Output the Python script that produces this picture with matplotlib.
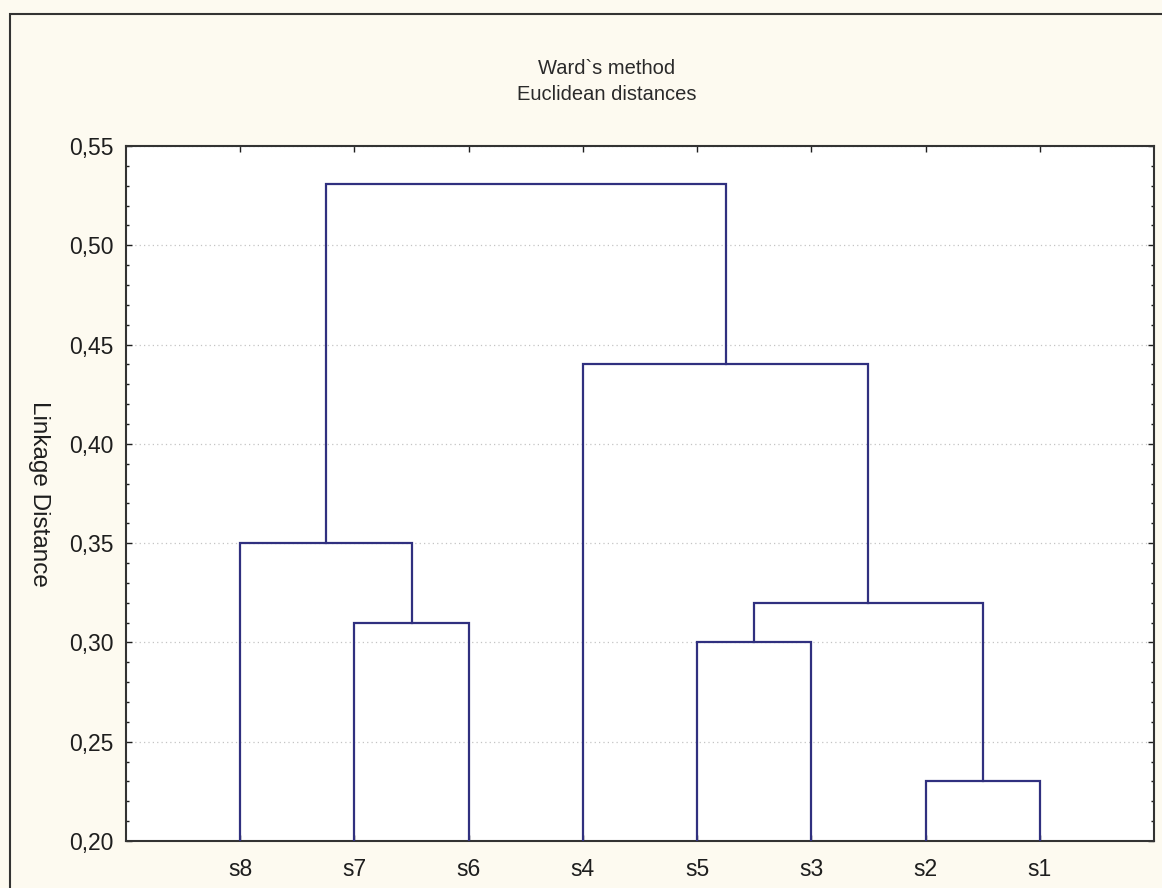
import matplotlib
matplotlib.use("Agg")
import matplotlib.pyplot as plt
from matplotlib.patches import Rectangle
from matplotlib.ticker import MultipleLocator, FuncFormatter

# leaf order along the x axis
leaves = ["s8", "s7", "s6", "s4", "s5", "s3", "s2", "s1"]

# merges: (left cluster, right cluster, linkage distance)
merges = [
    ("s2", "s1", 0.23),
    ("s5", "s3", 0.30),
    ("s7", "s6", 0.31),
    ("s5+s3", "s2+s1", 0.32),
    ("s8", "s7+s6", 0.35),
    ("s4", "s5+s3+s2+s1", 0.44),
    ("s8+s7+s6", "s4+s5+s3+s2+s1", 0.531),
]

y_min, y_max = 0.20, 0.55
line_color = "#30307F"

plt.rcParams["font.family"] = ["Liberation Sans", "DejaVu Sans"]

fig = plt.figure(figsize=(11.62, 8.88), dpi=100)
fig.patch.set_facecolor("#FDFAF0")
ax = fig.add_axes([126 / 1162, 1 - 841 / 888, (1154 - 126) / 1162, (841 - 146) / 888])
ax.set_facecolor("white")

# cluster positions: leaves sit at 1..n, a merged cluster sits at the mean of its children
pos = {name: i + 1 for i, name in enumerate(leaves)}
top = {name: y_min for name in leaves}
for left, right, h in merges:
    xl, xr = pos[left], pos[right]
    ax.plot([xl, xl, xr, xr], [top[left], h, h, top[right]],
            color=line_color, lw=1.6, solid_joinstyle="miter", zorder=3)
    name = left + "+" + right
    pos[name] = (xl + xr) / 2
    top[name] = h

ax.set_xlim(0, len(leaves) + 1)
ax.set_ylim(y_min, y_max)
ax.set_xticks(range(1, len(leaves) + 1))
ax.set_xticklabels(leaves)
ax.yaxis.set_major_locator(MultipleLocator(0.05))
ax.yaxis.set_minor_locator(MultipleLocator(0.01))
ax.yaxis.set_major_formatter(FuncFormatter(lambda v, _: f"{v:.2f}".replace(".", ",")))

ax.tick_params(axis="both", which="both", direction="in", top=True, right=True,
               labelsize=16.5, colors="#1E1E1E")
ax.tick_params(axis="both", which="major", length=4, width=1)
ax.tick_params(axis="y", which="minor", length=2.5, width=1)
ax.tick_params(axis="x", pad=12)
ax.tick_params(axis="y", pad=9)

ax.grid(True, axis="y", which="major", linestyle=(0, (1, 2.5)), color="#C4C4C4", lw=0.9)
ax.set_axisbelow(True)
for spine in ax.spines.values():
    spine.set_color("#333333")
    spine.set_linewidth(1.5)

ax.set_ylabel("Linkage Distance", rotation=270, fontsize=17.5, color="#1E1E1E",
              va="center")
ax.yaxis.set_label_coords(-87 / 1028, 0.5)

fig.text(607 / 1162, 1 - 68 / 888, "Ward`s method", ha="center", va="center",
         fontsize=14.5, color="#2A2A2A")
fig.text(607 / 1162, 1 - 95 / 888, "Euclidean distances", ha="center", va="center",
         fontsize=14.5, color="#2A2A2A")

# outer frame of the chart window
fig.patches.append(Rectangle((10 / 1162, -0.05), 1.2, 1 - 14 / 888 + 0.05,
                             transform=fig.transFigure, fill=False,
                             edgecolor="#333333", lw=1.5))

fig.savefig("out.png", dpi=100, facecolor=fig.get_facecolor())
